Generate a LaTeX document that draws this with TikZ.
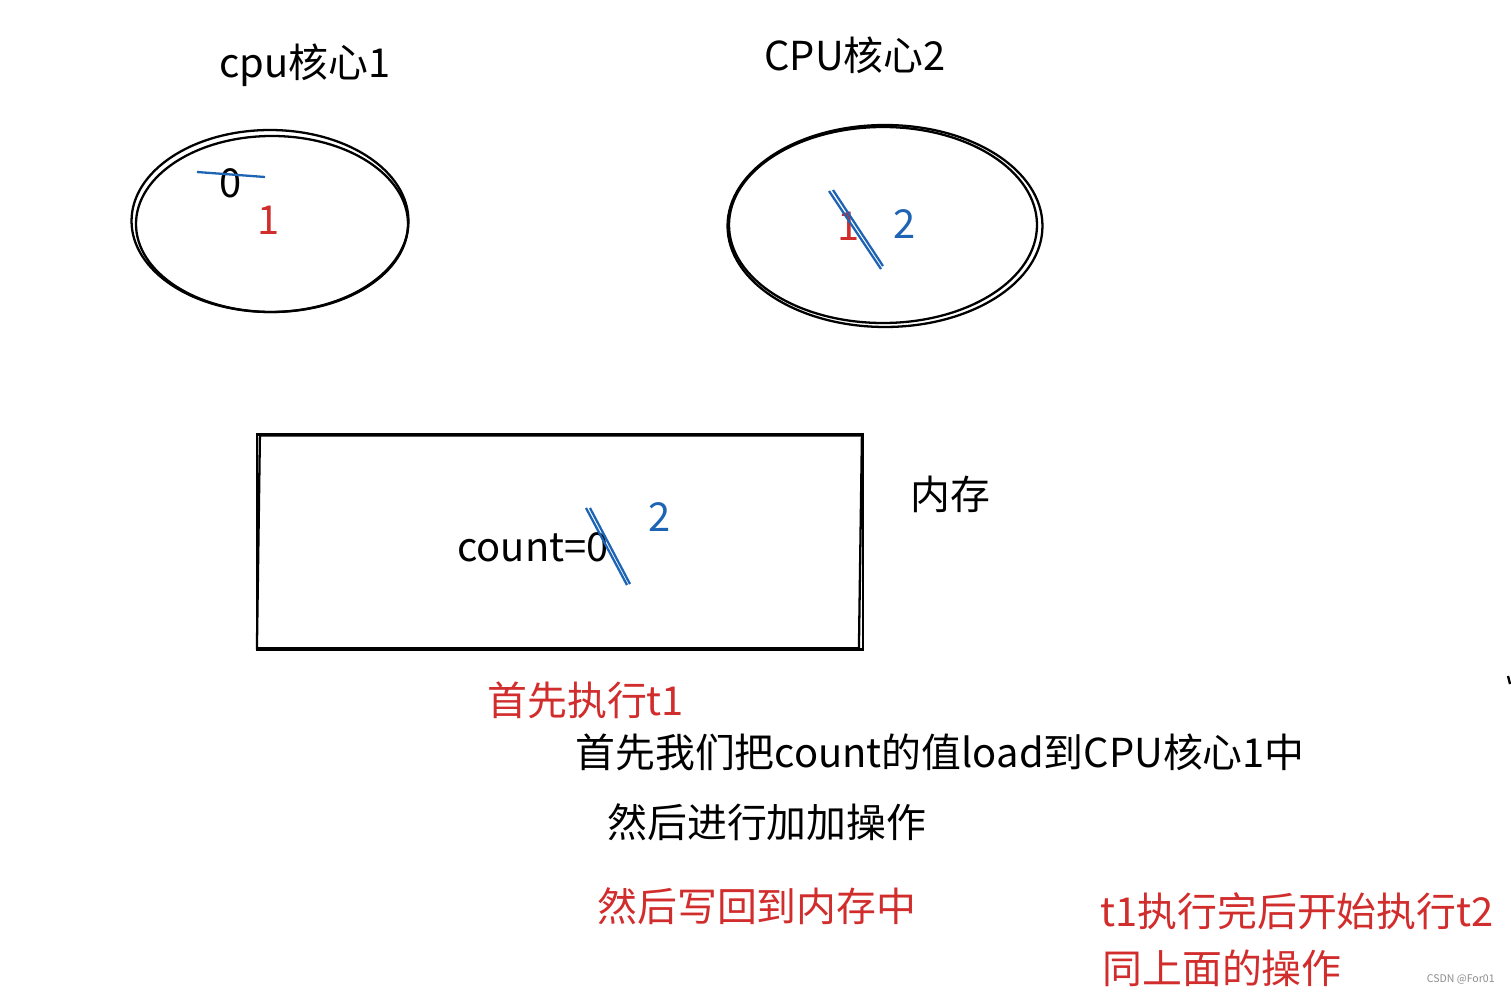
\documentclass[tikz,border=0pt]{standalone}
\usepackage{fontspec}
\setmainfont{Noto Sans CJK SC}
\usetikzlibrary{shapes.geometric}
\definecolor{penred}{RGB}{210,45,45}
\definecolor{penblue}{RGB}{30,100,180}

\begin{document}
\begin{tikzpicture}[x=0.02cm, y=-0.02cm, font=\fontsize{22.7}{27}\selectfont,
    pen/.style={draw, line width=1.3pt},
    strike/.style={draw=penblue, line width=1.3pt},
    txt/.style={inner sep=0pt, anchor=west}]
         \useasboundingbox (0, 0) rectangle (1511, 993);
         \node (T1) at (305, 65) {cpu核心1};
         \node (T2) at (855, 55) {CPU核心2};
         \node [pen, ellipse, minimum width=5.54cm, minimum height=3.64cm] (C1) at (270, 221) {};
         \draw [pen] (C1.center) ++(2, 3) ellipse [x radius=136, y radius=88];
         \node (Z1) at (231, 183) {0};
         \draw [strike] (Z1.center) ++(-34, -11) -- ++(68, 5);
         \node [text=penred] (N1) at (269, 220) {1};
         \node [pen, ellipse, minimum width=6.3cm, minimum height=4.04cm] (C2) at (885, 226) {};
         \draw [pen] (C2.center) ++(-2, -1) ellipse [x radius=154, y radius=98];
         \node [text=penred] (N2) at (849, 226) {1};
         \draw [strike] (N2.center) ++(-20, -35) -- ++(52, 78);
         \draw [strike] (N2.center) ++(-16, -36) -- ++(50, 76);
         \node [text=penblue] (V2) at (905, 224) {2};
         \node [pen, minimum width=12.12cm, minimum height=4.3cm] (M) at (560, 542) {};
         \draw [pen] (M.north west) ++(4, 2) -- ++(602, 0) -- ++(-3, 213) -- ++(-602, 0) -- cycle;
         \node (K) at (533, 547) {count=0};
         \draw [strike] (K.center) ++(53, -39) -- ++(41, 77);
         \draw [strike] (K.center) ++(57, -39) -- ++(40, 76);
         \node [text=penblue] (V3) at (660, 517) {2};
         \node (MEM) at (950, 494) {内存};
         \node [txt, text=penred] (S1) at (487, 700) {首先执行t1};
         \node [txt] (S2) at (575, 752) {首先我们把count的值load到CPU核心1中};
         \node [txt] (S3) at (607, 822) {然后进行加加操作};
         \node [txt, text=penred] (S4) at (597, 906) {然后写回到内存中};
         \node [txt, text=penred] (S5) at (1100, 911) {t1执行完后开始执行t2};
         \node [txt, text=penred] (S6) at (1102, 968) {同上面的操作};
         \node [inner sep=0pt, anchor=east, text=black!45, font=\fontsize{6}{7}\selectfont] (W) at (1495, 979) {CSDN @For01};
         \draw [pen] (1508, 676) -- (1510, 684);
 \end{tikzpicture}
\end{document}
